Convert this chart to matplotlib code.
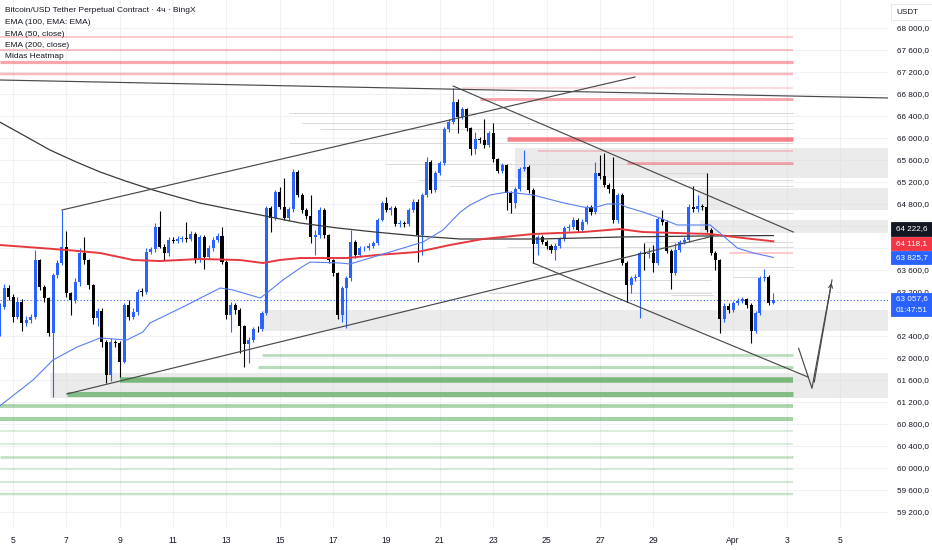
import numpy as np
import matplotlib.pyplot as plt
from matplotlib.patches import Rectangle

plt.rcParams['font.family'] = ['Liberation Sans', 'DejaVu Sans']

# 4h candles, index 0 = Mar 4 12:00
first_open = 62473
close = [62928, 63262, 63111, 62746, 63020, 62625, 62686, 62746, 63778, 63293,
         63080, 62455, 63505, 63717, 64021, 63171, 63050, 63384, 63899, 63778,
         63323, 62716, 62856, 62291, 61685, 62291, 62261, 61928, 62959, 62746,
         62837, 63202, 63195, 63930, 63972, 64385, 64021, 63899, 64142, 64130,
         64154, 64172, 64160, 64251, 63778, 64190, 63839, 63990, 64142, 64215,
         63748, 62777, 62959, 62868, 62577, 62249, 62322, 62522, 62515, 62807,
         64718, 64536, 65022, 64749, 64536, 64700, 65386, 64961, 64688, 64579,
         64203, 64233, 64688, 64233, 63778, 63535, 62777, 63262, 63444, 64112,
         63869, 63990, 64000, 64039, 64081, 64506, 64809, 64688, 64718, 64433,
         64450, 64433, 64688, 64840, 64233, 64961, 65568, 65052, 65355, 65537,
         66156, 66296, 66660, 66387, 66520, 66174, 65792, 65974, 65962, 65871,
         66083, 65610, 65404, 65507, 65003, 64821, 65064, 65428, 65464, 65052,
         64069, 64190, 64112, 64033, 63960, 64033, 64154, 64354, 64385, 64506,
         64324, 64476, 64736, 64657, 65368, 65310, 65150, 65064, 64506, 64961,
         63729, 63323, 63444, 63474, 63899, 63887, 63899, 63717, 64518, 64476,
         63948, 63547, 63960, 64112, 64142, 64749, 64700, 64761, 64740, 64324,
         63911, 63778, 62698, 62941, 62868, 62989, 63038, 63062, 62959, 62492,
         62807, 63444, 63474, 63001, 63057.6]
high = [63000, 63350, 63320, 63150, 63100, 63060, 62760, 62800, 63960, 63800,
        63330, 63100, 63550, 63780, 64688, 64300, 63200, 63450, 64000, 64203,
        63800, 63350, 62900, 62900, 62330, 62350, 62330, 62300, 63000, 63050,
        62900, 63250, 63260, 63990, 64020, 64450, 64670, 64060, 64200, 64190,
        64210, 64220, 64476, 64300, 64290, 64240, 64230, 64050, 64200, 64270,
        64385, 63780, 63010, 63000, 62900, 62600, 62380, 62560, 62570, 62850,
        64760, 64760, 65060, 65100, 65264, 64740, 65430, 65420, 65000, 64720,
        64961, 64324, 64750, 64720, 64260, 63800, 63560, 63300, 63480, 64324,
        64140, 64030, 64040, 64080, 64120, 64550, 64850, 64930, 64760, 64760,
        64500, 64480, 64730, 64880, 64880, 65000, 65660, 65600, 65400, 65580,
        66200, 66340, 66902, 66700, 66560, 66550, 66200, 66100, 66020, 66338,
        66120, 66277, 65640, 65550, 65530, 65040, 65100, 65470, 65780, 65500,
        65080, 64230, 64230, 64150, 64070, 64080, 64200, 64400, 64440, 64560,
        64540, 64520, 64780, 64770, 65568, 65689, 65719, 65180, 65659, 65000,
        65000, 63760, 63490, 63520, 63940, 64081, 63990, 64051, 64560, 64688,
        64500, 63980, 64081, 64150, 64200, 64790, 65125, 64961, 64800, 65367,
        64360, 63950, 63800, 62990, 62990, 63030, 63080, 63110, 63090, 62990,
        62850, 63480, 63608, 63500, 63183]
low = [62400, 62880, 63050, 62650, 62700, 62480, 62580, 62640, 62700, 63230,
       63020, 62400, 61290, 63450, 63680, 63100, 62780, 63000, 63300, 63700,
       63250, 62620, 62580, 62200, 61533, 61580, 62200, 61655, 61900, 62680,
       62700, 62780, 63130, 63150, 63880, 63920, 63990, 63780, 63850, 64080,
       64090, 64110, 64110, 64120, 63720, 63740, 63608, 63800, 63950, 64100,
       63700, 62700, 62473, 62800, 62079, 61837, 61897, 62280, 62470, 62480,
       62780, 64294, 64500, 64700, 64500, 64480, 64650, 64920, 64640, 64530,
       64081, 63869, 64180, 64180, 63720, 63480, 62700, 62650, 62534, 63400,
       63820, 63840, 63950, 63960, 64000, 64050, 64480, 64650, 64600, 64390,
       64380, 64380, 64400, 64650, 63748, 63869, 64930, 65000, 65020, 65320,
       65500, 66100, 66250, 66083, 66340, 66120, 65689, 65700, 65900, 65820,
       65840, 65560, 65360, 65370, 64688, 64639, 64718, 65030, 65400, 65000,
       63723, 63869, 64060, 63980, 63900, 63778, 64000, 64120, 64300, 64350,
       64280, 64290, 64440, 64600, 64620, 65260, 65100, 65000, 64460, 64460,
       63680, 63020, 63183, 63400, 62716, 63600, 63820, 63560, 63680, 64420,
       63900, 63244, 63500, 63920, 64060, 64100, 64650, 64650, 64680, 64280,
       63860, 63600, 62443, 62650, 62820, 62830, 62950, 63000, 62900, 62261,
       62450, 62770, 63400, 62950, 62980]

# moving averages (candle index, price)
ema50_x = [0, 7.5, 12, 17.4, 22.6, 28.6, 32.2, 33.8, 41.2, 49.6, 52.5, 58.6, 60.1,
           63.7, 67.6, 69.8, 76.6, 78.8, 87.8, 95.2, 99.7, 103.6, 105.8, 110.3,
           114.1, 120, 126, 131.2, 133.5, 136.6, 139.5, 141, 144.7, 148.5, 152.4,
           156, 159.8, 162, 165.9, 169.5, 174]
ema50_y = [61120, 61594, 61958, 62194, 62358, 62322, 62467, 62631, 62922, 63268,
           63232, 63086, 63177, 63414, 63632, 63741, 63723, 63705, 63923, 64105,
           64324, 64651, 64779, 64961, 65015, 64961, 64833, 64742, 64724, 64797,
           64800, 64740, 64651, 64542, 64415, 64415, 64415, 64269, 63996, 63905,
           63825.7]
ema100_x = [0, 15.1, 22.6, 30, 36, 45, 54, 59.2, 63, 67.6, 78.1, 84.9, 93.9,
            101.3, 108.7, 120, 131.2, 139.5, 144.7, 152.4, 159.8, 167.2, 174]
ema100_y = [64051, 63960, 63905, 63778, 63759, 63796, 63778, 63723, 63778, 63814,
            63814, 63869, 63923, 64051, 64160, 64251, 64287, 64342, 64287, 64269,
            64251, 64178, 64118.1]
ema200_x = [0, 5.7, 11.3, 17, 22.6, 28.5, 34.5, 40, 45, 52, 58.6, 67.6, 76, 84.4,
            94, 103.6, 121.5, 139.5, 157.5, 174]
ema200_y = [66289, 66034, 65780, 65570, 65379, 65210, 65052, 64925, 64815, 64700,
            64597, 64451, 64360, 64287, 64215, 64160, 64160, 64196, 64214, 64222.6]

# hand-drawn lines (candle index, price)
trend_lines = [
    ((0, 67054), (200.3, 66726)),
    ((14, 64688), (142.9, 67108)),
    ((15.1, 61339), (160.5, 64214)),
    ((102, 66944), (178.5, 64287)),
    ((120, 63723), (181.8, 61648)),
]
path_x = [179.7, 182.7, 187.2]
path_y = [62170, 61443, 63414]

# Midas heatmap
red_lvl = [67836, 67600, 67381, 67163, 66908, 66708, 65989, 65761, 65543, 63905]
red_from = [0, 0, 0, 0, 104, 108, 114, 121, 141, 164]
red_strength = [0.3, 0.35, 0.65, 0.45, 0.2, 0.6, 1.0, 0.25, 0.55, 0.3]
green_lvl = [62049, 61830, 61585, 61348, 61120, 60884, 60665, 60429, 60192,
             59974, 59737, 59519]
green_from = [59, 58, 27, 15.1, 0, 0, 0, 0, 0, 0, 0, 0]
green_strength = [0.4, 0.45, 1.0, 0.9, 0.6, 0.65, 0.15, 0.15, 0.35, 0.15, 0.2, 0.3]
zone_lo = [65270, 64688, 64269, 62485, 61266]
zone_hi = [65816, 65088, 64506, 62868, 61721]
zone_from = [115.9, 157, 157.5, 59.2, 11.3]
faint_lvl = [66453, 66271, 66162, 65907, 65525, 65234, 65124, 64633, 64014, 63650,
             63414, 63177, 65361, 64105, 63468, 63141]
faint_from = [65, 68, 72, 65, 87, 94, 101, 114, 114, 120, 110, 110, 148, 145, 165, 151]
faint_to = [178.5, 178.5, 178.5, 178.5, 178.5, 178.5, 178.5, 178.5, 178.5, 178.5,
            160, 160, 159, 178.5, 171, 160.5]
heat_end = 178.5

tick_days = [5, 7, 9, 11, 13, 15, 17, 19, 21, 23, 25, 27, 29, 32, 34, 36]
tick_text = ['5', '7', '9', '11', '13', '15', '17', '19', '21', '23', '25', '27',
             '29', 'Apr', '3', '5']
price_ticks = [59200, 59600, 60000, 60400, 60800, 61200, 61600, 62000, 62400,
               63200, 63600, 64000, 64400, 64800, 65200, 65600, 66000, 66400,
               66800, 67200, 67600, 68000]

last_price = 63057.6
countdown = '01:47:51'

W, H = 932, 550
fig = plt.figure(figsize=(W / 100, H / 100), dpi=100)
ax = fig.add_axes([0, 22 / H, 888 / W, 528 / H])
ax.set_xlim(0.07, 199.8)
ax.set_ylim(58900, 68510)
px = 0.72  # points per pixel

# heatmap zones and levels
for lo, hi, x0 in zip(zone_lo, zone_hi, zone_from):
    ax.add_patch(Rectangle((x0, lo), 199.8 - x0, hi - lo, facecolor='#dedede',
                           alpha=0.6, lw=0, zorder=1))
for p, x0, x1 in zip(faint_lvl, faint_from, faint_to):
    ax.hlines(p, x0, x1, color='#dadada', lw=1.0 * px, zorder=1.5)
for p, x0, s in zip(red_lvl, red_from, red_strength):
    ax.hlines(p, x0, heat_end, color='#f23645', alpha=0.12 + 0.5 * s,
              lw=(0.8 + 3.7 * s) * px, zorder=2)
for p, x0, s in zip(green_lvl, green_from, green_strength):
    ax.hlines(p, x0, heat_end, color='#43a047', alpha=0.12 + 0.55 * s,
              lw=(1.2 + 4.3 * s) * px, zorder=2)

# candles
close = np.array(close)
opens = np.r_[first_open, close[:-1]]
idx = np.arange(len(close))
col = np.where(close >= opens, '#2962ff', '#000000')
ax.vlines(idx, low, high, colors=col, lw=0.8, zorder=4)
ax.bar(idx, np.maximum(np.abs(close - opens), 14), bottom=np.minimum(opens, close),
       width=0.68, color=col, lw=0, zorder=5)

# EMAs
ax.plot(ema200_x, ema200_y, color='#3a3a3a', lw=0.9, zorder=6)
ax.plot(ema100_x, ema100_y, color='#e53940', lw=1.4, zorder=6)
ax.plot(ema50_x, ema50_y, color='#5a7ff0', lw=0.8, zorder=6)

# drawings
for (x0, y0), (x1, y1) in trend_lines:
    ax.plot([x0, x1], [y0, y1], color='#4a4a4a', lw=0.85, zorder=7)
ax.plot(path_x, path_y, color='#4a4a4a', lw=0.85, zorder=7)
ax.annotate('', xy=(path_x[-1], path_y[-1]),
            xytext=(path_x[-2] + 0.4, path_y[-2] + 60),
            arrowprops=dict(arrowstyle='->', color='#4a4a4a', lw=0.85,
                            mutation_scale=7), zorder=7)

ax.axhline(last_price, color='#2962ff', lw=0.8, ls=(0, (1, 2)), zorder=3)


def fmt(v):
    return f'{v:,.1f}'.replace(',', ' ').replace('.', ',')


# axes styling
ax.set_xticks([(d - 4.5) * 6 for d in tick_days])
ax.set_xticklabels(tick_text)
ax.set_yticks(price_ticks)
ax.set_yticklabels([fmt(v) for v in price_ticks])
ax.yaxis.tick_right()
ax.tick_params(axis='x', length=0, pad=6, labelsize=6.2, labelcolor='#131722')
ax.tick_params(axis='y', length=0, pad=6.5, labelsize=5.9, labelcolor='#131722')
ax.grid(color='#f0f1f4', lw=0.8, zorder=0)
ax.set_axisbelow(True)
for s in ax.spines.values():
    s.set_visible(False)

# legend texts
legend = ['Bitcoin/USD Tether Perpetual Contract · 4ч · BingX', 'EMA (100, EMA: EMA)',
          'EMA (50, close)', 'EMA (200, close)', 'Midas Heatmap']
for k, t in enumerate(legend):
    fig.text(5 / W, 1 - (11 + 11.5 * k) / H, t, fontsize=6.0, color='#131722',
             va='center', ha='left', zorder=10)


# price axis labels
def box(y0, y1, fc, lines, ec=None, tc='white'):
    fig.add_artist(Rectangle((891 / W, 1 - y1 / H), 41 / W, (y1 - y0) / H,
                             transform=fig.transFigure, facecolor=fc,
                             edgecolor=ec or fc, lw=0.6, zorder=20))
    n = len(lines)
    for k, t in enumerate(lines):
        yc = y0 + (y1 - y0) * (k + 0.5) / n
        fig.text(896 / W, 1 - yc / H, t, fontsize=5.9, color=tc, va='center',
                 ha='left', zorder=21)


box(4, 20, 'white', ['USDT'], ec='#e0e3eb', tc='#131722')
box(222, 236, '#131722', [fmt(ema200_y[-1])])
box(237, 250, '#f23645', [fmt(ema100_y[-1])])
box(251, 264, '#2962ff', [fmt(ema50_y[-1])])
box(293, 316, '#2962ff', [fmt(last_price), countdown])

fig.savefig('out.png', dpi=100, facecolor='white')
